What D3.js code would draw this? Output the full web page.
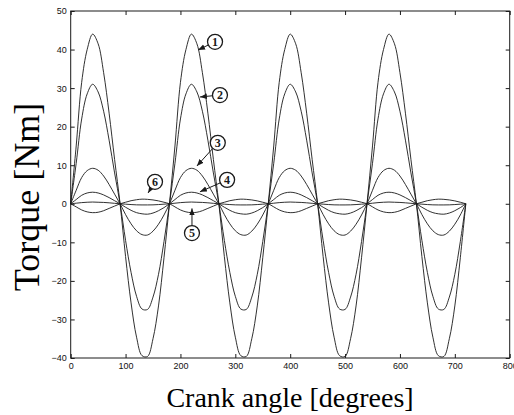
<!DOCTYPE html>
<html>
<head>
<meta charset="utf-8">
<script src="https://cdn.jsdelivr.net/npm/d3@7"></script>
<style>
  html, body { margin: 0; padding: 0; background: #fff; }
  svg { display: block; }
</style>
</head>
<body>
<svg id="chart" width="514" height="415"></svg>
<script>
// ---- data ----
const crankAngles = d3.range(0, 721, 10); // 0..720 deg, 10 deg step
const xTicks = [0, 100, 200, 300, 400, 500, 600, 700, 800];
const yTicks = [-40, -30, -20, -10, 0, 10, 20, 30, 40, 50];

const torque1 = [0,15,31.5,40,44,41.5,34,23.5,11.5,0,-13.7,-25.7,-34.6,-39.4,-39.6,-35,-26.5,-14,
                 0,15,31.5,40,44,41.5,34,23.5,11.5,0,-13.7,-25.7,-34.6,-39.4,-39.6,-35,-26.5,-14,
                 0,15,31.5,40,44,41.5,34,23.5,11.5,0,-13.7,-25.7,-34.6,-39.4,-39.6,-35,-26.5,-14,
                 0,15,31.5,40,44,41.5,34,23.5,11.5,0,-13.7,-25.7,-34.6,-39.4,-39.6,-35,-26.5,-14,0];
const torque2 = [0,10.5,22,28.5,31,29,24,16.5,8,0,-9.5,-17.8,-24,-27.3,-27.4,-24.2,-18.3,-9.8,
                 0,10.5,22,28.5,31,29,24,16.5,8,0,-9.5,-17.8,-24,-27.3,-27.4,-24.2,-18.3,-9.8,
                 0,10.5,22,28.5,31,29,24,16.5,8,0,-9.5,-17.8,-24,-27.3,-27.4,-24.2,-18.3,-9.8,
                 0,10.5,22,28.5,31,29,24,16.5,8,0,-9.5,-17.8,-24,-27.3,-27.4,-24.2,-18.3,-9.8,0];
const torque3 = [0,3.5,6.8,8.6,9.2,8.7,7.2,5,2.5,0,-2.8,-5.2,-7,-8,-8.1,-7.1,-5.3,-2.9,
                 0,3.5,6.8,8.6,9.2,8.7,7.2,5,2.5,0,-2.8,-5.2,-7,-8,-8.1,-7.1,-5.3,-2.9,
                 0,3.5,6.8,8.6,9.2,8.7,7.2,5,2.5,0,-2.8,-5.2,-7,-8,-8.1,-7.1,-5.3,-2.9,
                 0,3.5,6.8,8.6,9.2,8.7,7.2,5,2.5,0,-2.8,-5.2,-7,-8,-8.1,-7.1,-5.3,-2.9,0];
const torque4 = [0,1.1,2.2,2.8,3,2.8,2.3,1.6,0.8,0,-0.9,-1.7,-2.3,-2.6,-2.7,-2.4,-1.8,-1,
                 0,1.1,2.2,2.8,3,2.8,2.3,1.6,0.8,0,-0.9,-1.7,-2.3,-2.6,-2.7,-2.4,-1.8,-1,
                 0,1.1,2.2,2.8,3,2.8,2.3,1.6,0.8,0,-0.9,-1.7,-2.3,-2.6,-2.7,-2.4,-1.8,-1,
                 0,1.1,2.2,2.8,3,2.8,2.3,1.6,0.8,0,-0.9,-1.7,-2.3,-2.6,-2.7,-2.4,-1.8,-1,0];
const torque5 = [0,0.15,0.3,0.4,0.45,0.4,0.35,0.25,0.12,0,-0.1,-0.2,-0.28,-0.3,-0.3,-0.28,-0.2,-0.1,
                 0,0.15,0.3,0.4,0.45,0.4,0.35,0.25,0.12,0,-0.1,-0.2,-0.28,-0.3,-0.3,-0.28,-0.2,-0.1,
                 0,0.15,0.3,0.4,0.45,0.4,0.35,0.25,0.12,0,-0.1,-0.2,-0.28,-0.3,-0.3,-0.28,-0.2,-0.1,
                 0,0.15,0.3,0.4,0.45,0.4,0.35,0.25,0.12,0,-0.1,-0.2,-0.28,-0.3,-0.3,-0.28,-0.2,-0.1,0];
const torque6 = [0,-0.8,-1.6,-2.1,-2.3,-2.2,-1.8,-1.2,-0.6,0,0.4,0.8,1.05,1.2,1.15,1,0.75,0.4,
                 0,-0.8,-1.6,-2.1,-2.3,-2.2,-1.8,-1.2,-0.6,0,0.4,0.8,1.05,1.2,1.15,1,0.75,0.4,
                 0,-0.8,-1.6,-2.1,-2.3,-2.2,-1.8,-1.2,-0.6,0,0.4,0.8,1.05,1.2,1.15,1,0.75,0.4,
                 0,-0.8,-1.6,-2.1,-2.3,-2.2,-1.8,-1.2,-0.6,0,0.4,0.8,1.05,1.2,1.15,1,0.75,0.4,0];

// annotation labels: [label, labelAngle, labelTorque, tipAngle, tipTorque]
const annoLabels = ["1", "2", "3", "4", "5", "6"];
const annoLabelAngle  = [263, 272, 268, 285, 221, 153.6];
const annoLabelTorque = [42, 28.2, 15.8, 6.2, -7.6, 5.7];
const annoTipAngle    = [232, 235.5, 230, 235.5, 221, 141];
const annoTipTorque   = [39.9, 27.7, 9.8, 3.1, -1.2, 2.8];

const xLabel = "Crank angle [degrees]";
const yLabel = "Torque [Nm]";

// ---- drawing ----
const svg = d3.select("#chart");
const x = d3.scaleLinear().domain([0, 800]).range([70.7, 509.7]);
const y = d3.scaleLinear().domain([-40, 50]).range([358, 11]);
const ink = "#1a1a1a";

svg.append("defs").append("marker")
  .attr("id", "ah").attr("viewBox", "0 0 10 10").attr("refX", 10).attr("refY", 5)
  .attr("markerWidth", 7).attr("markerHeight", 7).attr("markerUnits", "userSpaceOnUse")
  .attr("orient", "auto")
  .append("path").attr("d", "M0,1 L10,5 L0,9 Z").attr("fill", ink);

const series = [torque1, torque2, torque3, torque4, torque5, torque6];
const line = d3.line().x((d, i) => x(crankAngles[i])).y(d => y(d)).curve(d3.curveCatmullRom.alpha(0.5));
svg.append("g").selectAll("path").data(series).join("path")
  .attr("d", line).attr("fill", "none").attr("stroke", ink).attr("stroke-width", 0.9);

// axes
function styleAxis(g) {
  g.select(".domain").remove();
  g.selectAll("line").attr("stroke", ink);
  g.selectAll("text").attr("font-family", "'Liberation Sans', Arial, sans-serif")
    .attr("font-size", 9).attr("fill", "#111");
}
svg.append("g").attr("transform", `translate(0,${y(-40)})`)
  .call(d3.axisBottom(x).tickValues(xTicks).tickSizeInner(-4).tickSizeOuter(0).tickPadding(5).tickFormat(d3.format("d")))
  .call(styleAxis);
svg.append("g").attr("transform", `translate(0,${y(50)})`)
  .call(d3.axisTop(x).tickValues(xTicks).tickSizeInner(-4).tickSizeOuter(0).tickFormat(""))
  .call(styleAxis);
svg.append("g").attr("transform", `translate(${x(0)},0)`)
  .call(d3.axisLeft(y).tickValues(yTicks).tickSizeInner(-4).tickSizeOuter(0).tickPadding(4).tickFormat(d3.format("d")))
  .call(styleAxis);
svg.append("g").attr("transform", `translate(${x(800)},0)`)
  .call(d3.axisRight(y).tickValues(yTicks).tickSizeInner(-4).tickSizeOuter(0).tickFormat(""))
  .call(styleAxis);

svg.append("rect").attr("x", x(0)).attr("y", y(50))
  .attr("width", x(800) - x(0)).attr("height", y(-40) - y(50))
  .attr("fill", "none").attr("stroke", ink).attr("stroke-width", 1);

// annotations
const R = 7.5;
annoLabels.forEach((lab, i) => {
  const cx = x(annoLabelAngle[i]), cy = y(annoLabelTorque[i]);
  const tx = x(annoTipAngle[i]), ty = y(annoTipTorque[i]);
  const dx = tx - cx, dy = ty - cy, len = Math.hypot(dx, dy);
  svg.append("line")
    .attr("x1", cx + dx / len * R).attr("y1", cy + dy / len * R)
    .attr("x2", tx).attr("y2", ty)
    .attr("stroke", ink).attr("stroke-width", 1).attr("marker-end", "url(#ah)");
  svg.append("circle").attr("cx", cx).attr("cy", cy).attr("r", R)
    .attr("fill", "#fff").attr("stroke", ink).attr("stroke-width", 1.3);
  svg.append("text").attr("x", cx).attr("y", cy).attr("dy", "0.36em")
    .attr("text-anchor", "middle").attr("font-family", "'Liberation Serif', 'Times New Roman', serif")
    .attr("font-size", 12).attr("font-weight", "bold").attr("fill", ink).text(lab);
});

// axis titles
svg.append("text").attr("x", 290).attr("y", 407).attr("text-anchor", "middle")
  .attr("font-family", "'Liberation Serif', 'Times New Roman', serif").attr("font-size", 28)
  .attr("fill", "#000").text(xLabel);
svg.append("text").attr("transform", "translate(39,197) rotate(-90)").attr("text-anchor", "middle")
  .attr("font-family", "'Liberation Serif', 'Times New Roman', serif").attr("font-size", 36)
  .attr("fill", "#000").text(yLabel);
</script>
</body>
</html>
